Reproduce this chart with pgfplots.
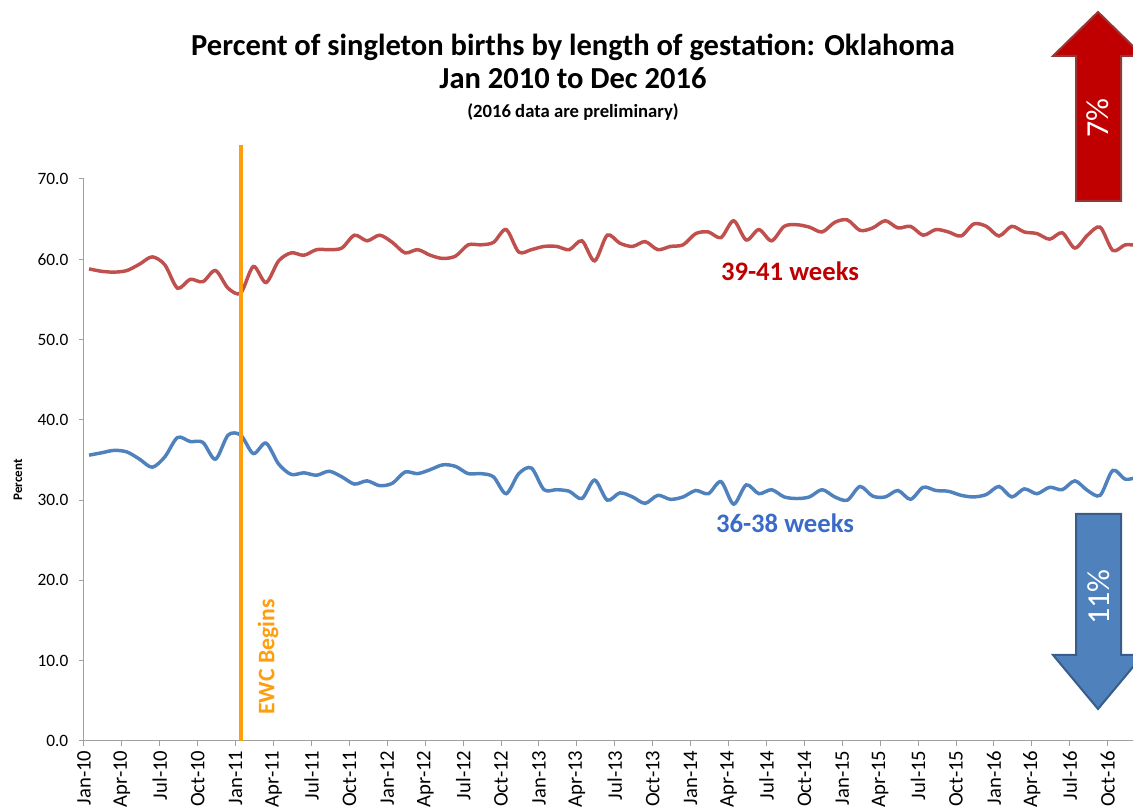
\documentclass[border=0pt]{standalone}
\usepackage{pgfplots}
\pgfplotsset{compat=1.18}
\usepackage{pgfplotstable}
\usepackage{fontspec}
\setmainfont{Carlito}
\definecolor{redline}{HTML}{C0504D}
\definecolor{blueline}{HTML}{4F81BD}
\definecolor{redlab}{HTML}{C00000}
\definecolor{bluelab}{HTML}{3A6BC8}
\definecolor{ewc}{HTML}{FF9E0D}
\definecolor{axgray}{HTML}{A0A0A0}
\definecolor{redarrow}{HTML}{C00000}
\definecolor{redarrowb}{HTML}{953735}
\definecolor{bluearrow}{HTML}{4F81BD}
\definecolor{bluearrowb}{HTML}{385D8A}

\pgfplotstableread{
m red blue
0 58.8 35.6
1 58.5 35.9
2 58.4 36.2
3 58.6 36.0
4 59.4 35.1
5 60.3 34.1
6 59.3 35.4
7 56.4 37.8
8 57.5 37.3
9 57.2 37.2
10 58.6 35.1
11 56.4 38.1
12 55.8 38.1
13 59.1 35.8
14 57.1 37.1
15 59.8 34.5
16 60.8 33.2
17 60.5 33.4
18 61.2 33.1
19 61.2 33.6
20 61.4 32.9
21 63.0 32.0
22 62.3 32.4
23 63.0 31.8
24 62.1 32.1
25 60.8 33.5
26 61.2 33.3
27 60.5 33.8
28 60.1 34.4
29 60.4 34.2
30 61.8 33.3
31 61.8 33.3
32 62.1 32.9
33 63.7 30.8
34 60.9 33.3
35 61.2 34.0
36 61.6 31.3
37 61.6 31.3
38 61.2 31.1
39 62.3 30.2
40 59.8 32.5
41 63.0 30.0
42 62.0 30.9
43 61.6 30.4
44 62.2 29.6
45 61.2 30.6
46 61.6 30.1
47 61.8 30.4
48 63.2 31.2
49 63.4 30.8
50 62.7 32.3
51 64.8 29.5
52 62.4 31.9
53 63.7 30.8
54 62.3 31.3
55 64.1 30.4
56 64.3 30.2
57 64.0 30.4
58 63.4 31.3
59 64.6 30.4
60 64.9 30.0
61 63.6 31.7
62 63.9 30.5
63 64.8 30.4
64 63.9 31.2
65 64.1 30.1
66 63.0 31.6
67 63.7 31.2
68 63.4 31.1
69 62.9 30.6
70 64.4 30.4
71 64.1 30.7
72 62.9 31.7
73 64.1 30.4
74 63.4 31.4
75 63.2 30.8
76 62.5 31.6
77 63.3 31.3
78 61.4 32.4
79 63.0 31.2
80 64.0 30.6
81 61.1 33.7
82 61.8 32.6
83 61.7 32.9
}\births

\begin{document}
\begin{tikzpicture}
\begin{axis}[
  at={(0,0)}, anchor=south west,
  scale only axis, width=786.75pt, height=421.5pt,
  xmin=-0.4, xmax=82.6, ymin=0, ymax=70,
  axis x line*=bottom, axis y line*=left,
  axis line style={axgray, line width=0.75pt, -},
  every tick/.style={axgray, line width=0.75pt},
  tick align=outside, major tick length=3.75pt,
  xtick={-0.4,2.6,5.6,8.6,11.6,14.6,17.6,20.6,23.6,26.6,29.6,32.6,35.6,38.6,41.6,44.6,47.6,50.6,53.6,56.6,59.6,62.6,65.6,68.6,71.6,74.6,77.6,80.6},
  xticklabels={Jan-10,Apr-10,Jul-10,Oct-10,Jan-11,Apr-11,Jul-11,Oct-11,Jan-12,Apr-12,Jul-12,Oct-12,Jan-13,Apr-13,Jul-13,Oct-13,Jan-14,Apr-14,Jul-14,Oct-14,Jan-15,Apr-15,Jul-15,Oct-15,Jan-16,Apr-16,Jul-16,Oct-16},
  x tick label style={rotate=90, anchor=east, font=\fontsize{15.5}{16}\selectfont, text=black},
  ytick={0,10,20,30,40,50,60,70},
  y tick label style={font=\fontsize{13}{14}\selectfont, text=black, xshift=-4.5pt},
  yticklabel style={/pgf/number format/.cd, fixed, fixed zerofill, precision=1, assume math mode=true},
  clip mode=individual,
]
\addplot[redline, line width=2.6pt, smooth] table[x=m, y=red] {\births};
\addplot[blueline, line width=2.6pt, smooth] table[x=m, y=blue] {\births};
\draw[ewc, line width=3pt] (axis cs:12,0) -- (axis cs:12,74.2);
\end{axis}
\begin{scope}[shift={(-63pt,555.75pt)}, x=0.75pt, y=-0.75pt]
  % titles
  \node[anchor=base, inner sep=0pt] at (573,56) {\fontsize{22.9}{27}\selectfont\bfseries Percent of singleton births by length of gestation: Oklahoma};
  \node[anchor=base, inner sep=0pt] at (573,89) {\fontsize{22.9}{27}\selectfont\bfseries Jan 2010 to Dec 2016};
  \node[anchor=base, inner sep=0pt] at (573,118) {\fontsize{14}{16}\selectfont\bfseries (2016 data are preliminary)};
  % y label
  \node[rotate=90, inner sep=0pt] at (18,480) {\fontsize{9.8}{11}\selectfont\bfseries Percent};
  % series labels
  \node[inner sep=0pt, text=redlab] at (790,271) {\fontsize{20}{22}\selectfont\bfseries 39-41 weeks};
  \node[inner sep=0pt, text=bluelab] at (785,523) {\fontsize{20}{22}\selectfont\bfseries 36-38 weeks};
  % EWC
  \node[rotate=90, inner sep=0pt, text=ewc] at (268,657) {\fontsize{17.8}{20}\selectfont\bfseries EWC Begins};
  % arrows
  \draw[fill=redarrow, draw=redarrowb, line width=1.5pt, line join=miter]
    (1098,12) -- (1143,56) -- (1121,56) -- (1121,201) -- (1076,201) -- (1076,56) -- (1053,56) -- cycle;
  \node[rotate=90, text=white, inner sep=0pt] at (1098,118) {\fontsize{24}{26}\selectfont 7\%};
  \draw[fill=bluearrow, draw=bluearrowb, line width=1.5pt, line join=miter]
    (1076,514) -- (1121,514) -- (1121,655) -- (1143,655) -- (1098,709) -- (1053,655) -- (1076,655) -- cycle;
  \node[rotate=90, text=white, inner sep=0pt] at (1099,597) {\fontsize{24}{26}\selectfont 11\%};
  \pgfresetboundingbox
  \path[use as bounding box] (0,0) rectangle (1133,812);
\end{scope}
\end{tikzpicture}
\end{document}
